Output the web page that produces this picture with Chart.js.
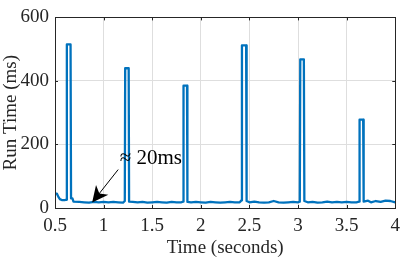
<!DOCTYPE html>
<html>
<head>
<meta charset="utf-8">
<script src="https://cdn.jsdelivr.net/npm/chart.js@4"></script>
<style>
  html, body { margin: 0; padding: 0; background: #fff; }
  #wrap { width: 407px; height: 259px; }
</style>
</head>
<body>
<div id="wrap"><canvas id="run-chart" width="407" height="259"></canvas></div>
<script>
// time in seconds, run time in ms
const times = [
  0.5, 0.52, 0.535, 0.55, 0.57, 0.6, 0.617, 0.622, 0.66, 0.665, 0.68, 0.69,
  0.75, 0.8, 0.85, 0.9, 0.95, 1.0, 1.05, 1.1, 1.15, 1.2, 1.218, 1.222, 1.258, 1.262,
  1.3, 1.35, 1.4, 1.45, 1.5, 1.55, 1.6, 1.65, 1.7, 1.75, 1.8, 1.818, 1.822, 1.858, 1.862,
  1.9, 1.95, 2.0, 2.05, 2.1, 2.15, 2.2, 2.25, 2.3, 2.35, 2.4, 2.418, 2.423, 2.466, 2.471,
  2.5, 2.55, 2.6, 2.65, 2.7, 2.75, 2.8, 2.85, 2.9, 2.95, 3.0, 3.018, 3.023, 3.06, 3.065,
  3.1, 3.15, 3.2, 3.25, 3.3, 3.35, 3.4, 3.45, 3.5, 3.55, 3.6, 3.628, 3.633, 3.67, 3.675,
  3.72, 3.75, 3.8, 3.85, 3.9, 3.95, 4.0
];
const runTimes = [
  45, 45, 35, 28, 25, 25, 26, 515, 515, 30, 30, 20,
  19, 18, 17, 19, 18, 19, 18, 19, 18, 17, 22, 440, 440, 20,
  19, 18, 19, 17, 18, 19, 18, 17, 19, 18, 18, 20, 385, 385, 19,
  18, 19, 18, 17, 19, 18, 17, 18, 19, 18, 18, 24, 512, 512, 22,
  18, 20, 18, 17, 18, 22, 18, 17, 18, 19, 18, 20, 468, 468, 22,
  18, 19, 17, 18, 20, 18, 19, 18, 19, 18, 18, 20, 278, 278, 20,
  23, 18, 22, 19, 23, 22, 18
];
const xTicks = [0.5, 1, 1.5, 2, 2.5, 3, 3.5, 4];
const yTicks = [0, 200, 400, 600];
const noteText = '\u2248 20ms';

const serif = '"Liberation Serif", "DejaVu Serif", serif';
const points = times.map((t, i) => ({ x: t, y: runTimes[i] }));

// black box round the plot plus the arrow note
const boxAndNote = {
  id: 'boxAndNote',
  afterDraw(chart) {
    const c = chart.ctx;
    const a = chart.chartArea;
    const xs = chart.scales.x, ys = chart.scales.y;
    c.save();
    c.strokeStyle = '#262626';
    c.lineWidth = 1;
    c.strokeRect(Math.round(a.left) + 0.5, Math.round(a.top) + 0.5,
      Math.round(a.right - a.left), Math.round(a.bottom - a.top));

    // small inward ticks like the original
    c.beginPath();
    xTicks.forEach(v => {
      const px = Math.round(xs.getPixelForValue(v)) + 0.5;
      c.moveTo(px, a.bottom); c.lineTo(px, a.bottom - 3);
      c.moveTo(px, a.top); c.lineTo(px, a.top + 3);
    });
    yTicks.forEach(v => {
      const py = Math.round(ys.getPixelForValue(v)) + 0.5;
      c.moveTo(a.left, py); c.lineTo(a.left + 3, py);
      c.moveTo(a.right, py); c.lineTo(a.right - 3, py);
    });
    c.stroke();

    // arrow
    const x0 = xs.getPixelForValue(1.15), y0 = ys.getPixelForValue(121);
    const x1 = xs.getPixelForValue(0.882), y1 = ys.getPixelForValue(17);
    const ang = Math.atan2(y1 - y0, x1 - x0);
    c.strokeStyle = '#000';
    c.fillStyle = '#000';
    c.lineWidth = 1;
    c.beginPath();
    c.moveTo(x0, y0);
    c.lineTo(x1 - 10 * Math.cos(ang), y1 - 10 * Math.sin(ang));
    c.stroke();
    const len = 18, half = 0.45;
    c.beginPath();
    c.moveTo(x1, y1);
    c.lineTo(x1 - len * Math.cos(ang - half), y1 - len * Math.sin(ang - half));
    c.lineTo(x1 - len * 0.65 * Math.cos(ang), y1 - len * 0.65 * Math.sin(ang));
    c.lineTo(x1 - len * Math.cos(ang + half), y1 - len * Math.sin(ang + half));
    c.closePath();
    c.fill();

    c.font = '21px ' + serif;
    c.textBaseline = 'middle';
    c.textAlign = 'left';
    c.fillStyle = '#000';
    c.fillText(noteText, xs.getPixelForValue(1.165), ys.getPixelForValue(157));
    c.restore();
  }
};

const ctx = document.getElementById('run-chart').getContext('2d');
new Chart(ctx, {
  type: 'line',
  data: {
    datasets: [{
      data: points,
      borderColor: '#0072BD',
      borderWidth: 2.3,
      borderJoinStyle: 'round',
      pointRadius: 0,
      tension: 0,
      fill: false
    }]
  },
  options: {
    responsive: false,
    animation: false,
    layout: { padding: { left: 0, right: 8, top: 9, bottom: 0 } },
    plugins: { legend: { display: false }, tooltip: { enabled: false } },
    scales: {
      x: {
        type: 'linear',
        min: 0.5, max: 4,
        afterBuildTicks(axis) { axis.ticks = xTicks.map(v => ({ value: v })); },
        afterFit(axis) { axis.height = 51; },
        grid: { color: '#dedede', drawTicks: false },
        border: { display: false },
        ticks: {
          color: '#262626', padding: 7,
          font: { family: serif, size: 19 },
          maxRotation: 0,
          callback: v => String(v)
        },
        title: {
          display: true, text: 'Time (seconds)', color: '#262626',
          font: { family: serif, size: 19 }, padding: { top: 1, bottom: 0 }
        }
      },
      y: {
        min: 0, max: 600,
        afterBuildTicks(axis) { axis.ticks = yTicks.map(v => ({ value: v })); },
        afterFit(axis) { axis.width = 55; },
        grid: { color: '#dedede', drawTicks: false },
        border: { display: false },
        ticks: {
          color: '#262626', padding: 6,
          font: { family: serif, size: 19 }
        },
        title: {
          display: true, text: 'Run Time (ms)', color: '#262626',
          font: { family: serif, size: 19 }, padding: { top: 0, bottom: 0 }
        }
      }
    }
  },
  plugins: [boxAndNote]
});
</script>
</body>
</html>
